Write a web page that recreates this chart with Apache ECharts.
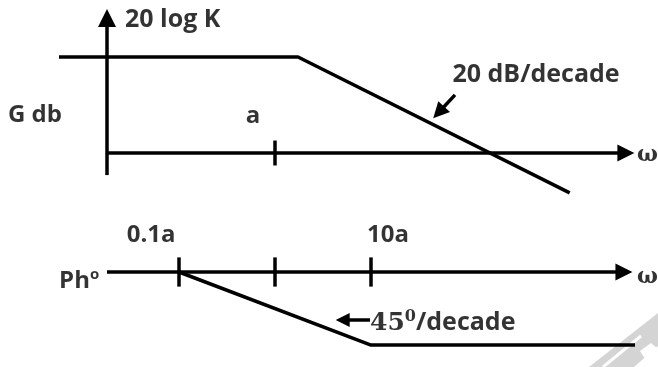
<!DOCTYPE html>
<html>
<head>
<meta charset="utf-8">
<script src="https://cdn.jsdelivr.net/npm/echarts@6/dist/echarts.min.js"></script>
<style>
html,body{margin:0;padding:0;background:#fff;}
#c{width:658px;height:367px;}
</style>
</head>
<body>
<div id="c"></div>
<script>
// x values are log10(omega / a) (decades relative to the corner frequency a)
// Magnitude plot (dB)
const magOmega = [-2.25, 0.24, 3.07];
const magDb = [40, 40, -16.6];
// Phase plot (degrees)
const phaseOmega = [-1, 1, 3.75];
const phaseDeg = [0, -90, -90];
// Tick positions and labels
const magTicks = [0];
const magTickLabels = ['a'];
const phaseTicks = [-1, 0, 1];
const phaseTickLabels = ['0.1a', '', '10a'];
// Axis extents (drawn axes, end = arrow head centre)
const magAxisX = [-1.75, 3.655];
const magAxisY = [-9.2, 56.2];
const phaseAxisX = [-1.75, 3.635];
const phaseAxisY = [-118, 78.5];

const chart = echarts.init(document.getElementById('c'), null, {renderer: 'canvas'});
const FONT = 'Open Sans';
const LW = 3.5;
const base = {color: '#000', fontFamily: FONT, fontWeight: 'bold'};

function seg(a, b, sym, size, w) {
  return [
    {coord: a, symbol: sym[0], symbolSize: size},
    {coord: b, symbol: sym[1], symbolSize: size, lineStyle: {width: w || LW}}
  ];
}

function textSeries(idx, items) {
  return {
    type: 'scatter', xAxisIndex: idx, yAxisIndex: idx, symbolSize: 0, silent: true,
    data: items.map(it => ({
      value: it.p,
      label: Object.assign({
        show: true, position: it.pos || 'inside', distance: 0,
        formatter: it.t
      }, base, {fontSize: it.fs || 24}, it.extra || {})
    }))
  };
}

const magTickLines = magTicks.map(t => seg([t, -5.2], [t, 5.2], ['none', 'none'], 0));
const phaseTickLines = phaseTicks.map(t => seg([t, -18], [t, 18], ['none', 'none'], 0));

const option = {
  animation: false,
  backgroundColor: '#fff',
  grid: [
    {left: 35, right: 18.2, top: 9, bottom: 166},
    {left: 35, right: 18.2, top: 199, bottom: 1.7}
  ],
  xAxis: [
    {gridIndex: 0, type: 'value', min: -2.5, max: 3.8, show: false},
    {gridIndex: 1, type: 'value', min: -2.5, max: 3.8, show: false}
  ],
  yAxis: [
    {gridIndex: 0, type: 'value', min: -20, max: 60, show: false},
    {gridIndex: 1, type: 'value', min: -115, max: 90, show: false}
  ],
  graphic: [
    {type: 'polygon', silent: true, z: -10,
     shape: {points: [[589, 367], [658, 313], [658, 346], [634, 367]]},
     style: {fill: '#d4d4d4'}},
    {type: 'line', silent: true, z: -9,
     shape: {x1: 603, y1: 367, x2: 641, y2: 336},
     style: {stroke: '#fff', lineWidth: 3}},
    {type: 'polygon', silent: true, z: -9,
     shape: {points: [[640, 351], [651, 343], [658, 349], [658, 356], [647, 362]]},
     style: {fill: '#fff'}}
  ],
  series: [
    {
      type: 'line', xAxisIndex: 0, yAxisIndex: 0, clip: false,
      data: magOmega.map((x, i) => [x, magDb[i]]),
      showSymbol: false, symbol: 'none', silent: true,
      lineStyle: {color: '#000', width: LW},
      markLine: {
        silent: true, animation: false,
        label: {show: false},
        lineStyle: {color: '#000', width: LW, type: 'solid'},
        data: [
          seg([magAxisX[0], 0], [magAxisX[1], 0], ['none', 'triangle'], [17, 17]),
          seg([magAxisX[0], magAxisY[0]], [magAxisX[0], magAxisY[1]], ['none', 'triangle'], [18, 18]),
          seg([1.875, 24.2], [1.705, 16.9], ['none', 'triangle'], [16, 16], 3.5)
        ].concat(magTickLines)
      }
    },
    {
      type: 'line', xAxisIndex: 1, yAxisIndex: 1, clip: false,
      data: phaseOmega.map((x, i) => [x, phaseDeg[i]]),
      showSymbol: false, symbol: 'none', silent: true,
      lineStyle: {color: '#000', width: LW},
      markLine: {
        silent: true, animation: false,
        label: {show: false},
        lineStyle: {color: '#000', width: LW, type: 'solid'},
        data: [
          seg([phaseAxisX[0], 0], [phaseAxisX[1], 0], ['none', 'triangle'], [17, 17]),
          seg([phaseAxisX[0], phaseAxisY[0]], [phaseAxisX[0], phaseAxisY[1]], ['none', 'triangle'], [18, 18]),
          seg([0.99, -59.2], [0.705, -59.2], ['none', 'triangle'], [14, 14], 3.5)
        ].concat(phaseTickLines)
      }
    },
    textSeries(0, [
      {p: [-1.5625, 55.4], t: '20 log K', pos: 'right', fs: 25},
      {p: [-2.5, 15.8], t: 'G db'},
      {p: [magTicks[0] - 0.229, 15.5], t: magTickLabels[0]},
      {p: [2.719, 32.5], t: '20 dB/decade', fs: 25},
      {p: [3.77, -0.8], t: 'ω', pos: 'right', fs: 22, extra: {fontFamily: 'DejaVu Serif'}}
    ]),
    textSeries(1, [
      {p: [phaseTicks[0] - 0.29, 45.6], t: phaseTickLabels[0]},
      {p: [phaseTicks[2] + 0.177, 45.6], t: phaseTickLabels[2]},
      {p: [-2.04, -11.1], t: '{b|Ph}{s|o}',
       extra: {rich: {b: {fontFamily: FONT, fontWeight: 'bold', fontSize: 24, color: '#000'},
                      s: {fontFamily: FONT, fontWeight: 'bold', fontSize: 15, color: '#000', verticalAlign: 'top', padding: [0, 0, 12, 0]}}}},
      {p: [3.77, -6.2], t: 'ω', pos: 'right', fs: 22, extra: {fontFamily: 'DejaVu Serif'}},
      {p: [0.99, -62.9], t: '{n|45}{s|0}{d|/decade}', pos: 'right',
       extra: {rich: {n: {fontFamily: 'DejaVu Serif', fontSize: 25, color: '#000'},
                      s: {fontFamily: 'DejaVu Serif', fontSize: 16, color: '#000', padding: [0, 0, 12, 0]},
                      d: {fontFamily: FONT, fontWeight: 'bold', fontSize: 25, color: '#000'}}}}
    ])
  ]
};
chart.setOption(option);
</script>
</body>
</html>
